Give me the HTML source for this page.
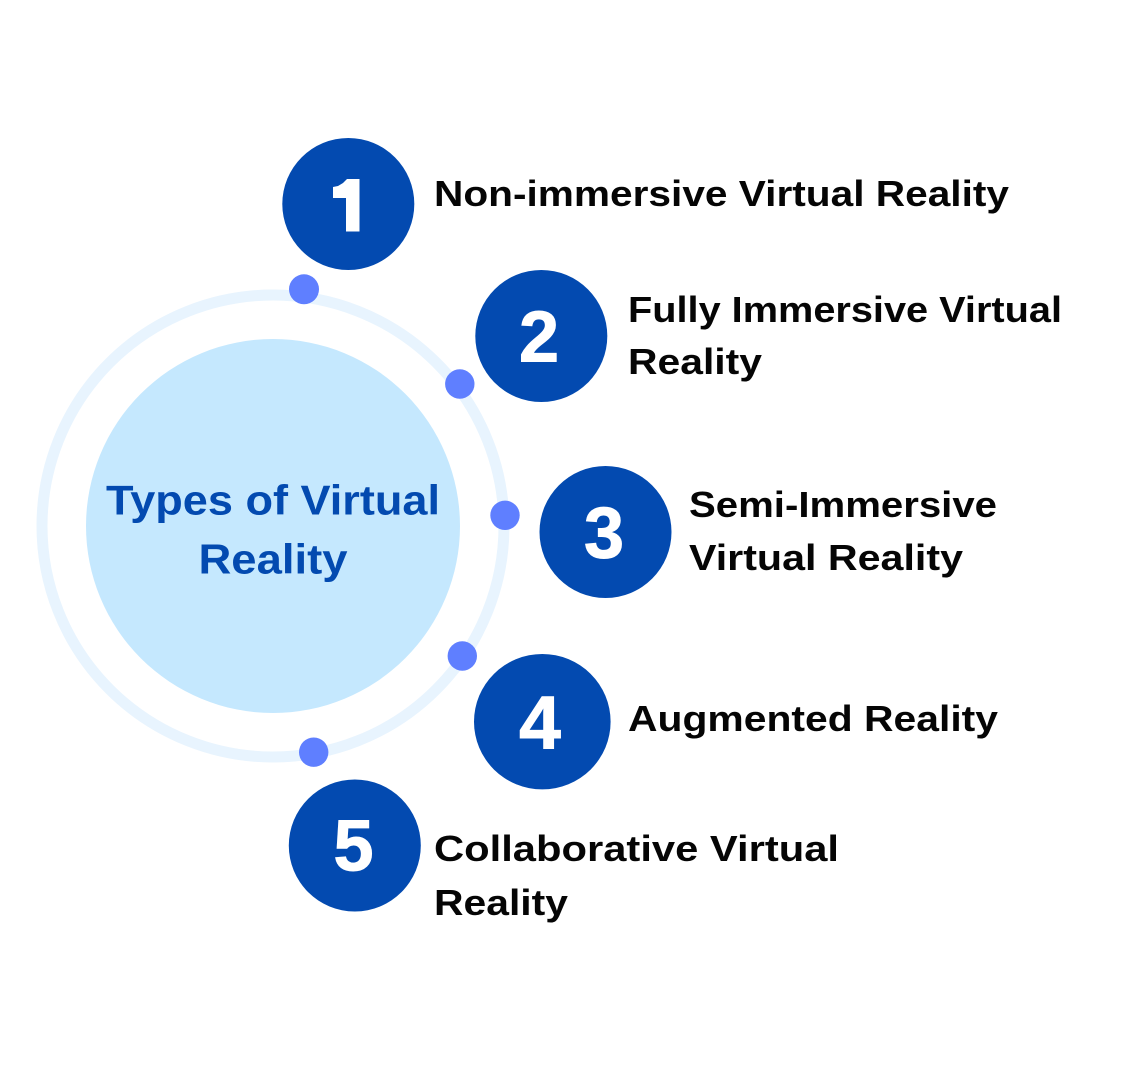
<!DOCTYPE html>
<html>
<head>
<meta charset="utf-8">
<style>
html,body{margin:0;padding:0;background:#fff;}
svg{display:block;}
text{font-family:"Liberation Sans",sans-serif;font-weight:700;}
</style>
</head>
<body>
<svg width="1129" height="1080" viewBox="0 0 1129 1080" xmlns="http://www.w3.org/2000/svg">
<rect width="1129" height="1080" fill="#fff"/>
<circle cx="273" cy="526" r="231" fill="none" stroke="#e8f4fe" stroke-width="11"/>
<circle cx="273" cy="526" r="187" fill="#c5e8fe"/>
<g fill="#5f7fff">
<circle cx="304" cy="289.300" r="15"/>
<circle cx="459.800" cy="384" r="14.700"/>
<circle cx="505" cy="515.300" r="14.700"/>
<circle cx="462.300" cy="656" r="14.700"/>
<circle cx="313.700" cy="752.200" r="14.700"/>
</g>
<g fill="#034ab0">
<circle cx="348.300" cy="204" r="66"/>
<circle cx="541.300" cy="336" r="66"/>
<circle cx="605.500" cy="532" r="66"/>
<ellipse cx="542.300" cy="721.700" rx="68.300" ry="67.700"/>
<circle cx="354.800" cy="845.500" r="66"/>
</g>
<g fill="#fff" stroke="#fff" stroke-width="1" font-size="72" text-anchor="middle">
<text x="352" y="231">1</text>
<text x="539" y="361.500">2</text>
<text x="604" y="557.500">3</text>
<text x="540" y="748.500" font-size="75">4</text>
<text x="353.500" y="870.500">5</text>
</g>
<!-- hide the foot of the 1, then smooth its stem and flag -->
<rect x="322" y="221" width="24" height="12" fill="#034ab0"/>
<rect x="359.500" y="221" width="14" height="12" fill="#034ab0"/>
<polygon points="333,187 338,186 343,183 347,179 359.500,179 359.500,231 346,231 346,198 333,198" fill="#fff"/>
<g fill="#034ab0" font-size="42" text-anchor="middle">
<text x="273" y="514.500" textLength="334" lengthAdjust="spacingAndGlyphs">Types of Virtual</text>
<text x="273" y="573.500" textLength="149" lengthAdjust="spacingAndGlyphs">Reality</text>
</g>
<g fill="#050505" font-size="36">
<text x="434" y="206" textLength="575" lengthAdjust="spacingAndGlyphs">Non-immersive Virtual Reality</text>
<text x="628" y="322" textLength="434" lengthAdjust="spacingAndGlyphs">Fully Immersive Virtual</text>
<text x="628" y="374" textLength="134" lengthAdjust="spacingAndGlyphs">Reality</text>
<text x="689" y="517" textLength="308" lengthAdjust="spacingAndGlyphs">Semi-Immersive</text>
<text x="689" y="570" textLength="274" lengthAdjust="spacingAndGlyphs">Virtual Reality</text>
<text x="628" y="731" textLength="370" lengthAdjust="spacingAndGlyphs">Augmented Reality</text>
<text x="434" y="861" textLength="405" lengthAdjust="spacingAndGlyphs">Collaborative Virtual</text>
<text x="434" y="915" textLength="134" lengthAdjust="spacingAndGlyphs">Reality</text>
</g>
</svg>
</body>
</html>
